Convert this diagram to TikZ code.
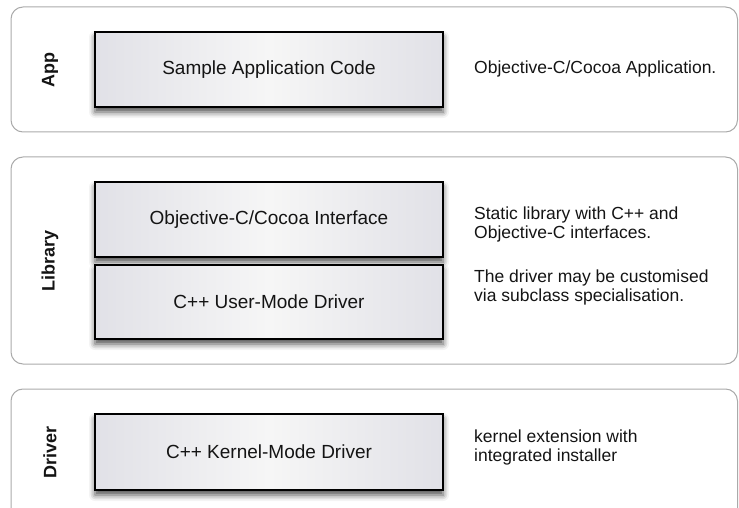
\documentclass[tikz,border=0pt]{standalone}
\usepackage{fontspec}
\setmainfont{Liberation Sans}
\usetikzlibrary{shadows.blur}
\definecolor{panelline}{RGB}{170,170,170}
\definecolor{boxedge}{RGB}{225,225,231}
\definecolor{boxmid}{RGB}{246,246,246}
\definecolor{txt}{RGB}{20,20,20}
\tikzset{
  panel/.style={draw=panelline, line width=1pt, rounded corners=12pt},
  layerbox/.style={draw=black, line width=1.2pt, left color=boxedge, right color=boxedge, middle color=boxmid,
    blur shadow={shadow xshift=0pt, shadow yshift=-5pt, shadow blur radius=6pt, shadow opacity=70}},
  boxtext/.style={font=\fontsize{19}{21}\selectfont, text=txt},
  sidetext/.style={font=\fontsize{17.5}{19}\selectfont, text=txt, align=left, anchor=base west, inner sep=0pt},
  tierlabel/.style={font=\bfseries\fontsize{18}{20}\selectfont, text=txt, rotate=90}
}
\begin{document}
\begin{tikzpicture}[x=1pt,y=-1pt]
\useasboundingbox (0,0) rectangle (739,508);
\clip (0,0) rectangle (739,508);
% panels
\draw[panel] (11,7) rectangle (737.5,132);
\draw[panel] (11,157) rectangle (737.5,364);
\draw[panel] (11,389) rectangle (737.5,540);
% tier labels
\node[tierlabel] (lapp) at (50,70) {App};
\node[tierlabel] (llib) at (50,261) {Library};
\node[tierlabel] (ldrv) at (50,452) {Driver};
% boxes
\path[layerbox] (95,32) rectangle (443,107);
\node[boxtext] (app) at (269,69.5) {Sample Application Code};
\path[layerbox] (95,182) rectangle (443,257);
\node[boxtext] (objc) at (269,219.5) {Objective-C/Cocoa Interface};
\path[layerbox] (95,265) rectangle (443,339);
\node[boxtext] (user) at (269,302) {C++ User-Mode Driver};
\path[layerbox] (95,414) rectangle (443,490);
\node[boxtext] (kern) at (269,452) {C++ Kernel-Mode Driver};
% side texts (base anchor = last line)
\node[sidetext] (dapp) at (474,74) {Objective-C/Cocoa Application.};
\node[sidetext] (dlib1) at (474,238) {Static library with C++ and\\Objective-C interfaces.};
\node[sidetext] (dlib2) at (474,301) {The driver may be customised\\via subclass specialisation.};
\node[sidetext] (ddrv) at (474,461) {kernel extension with\\integrated installer};
\end{tikzpicture}
\end{document}
